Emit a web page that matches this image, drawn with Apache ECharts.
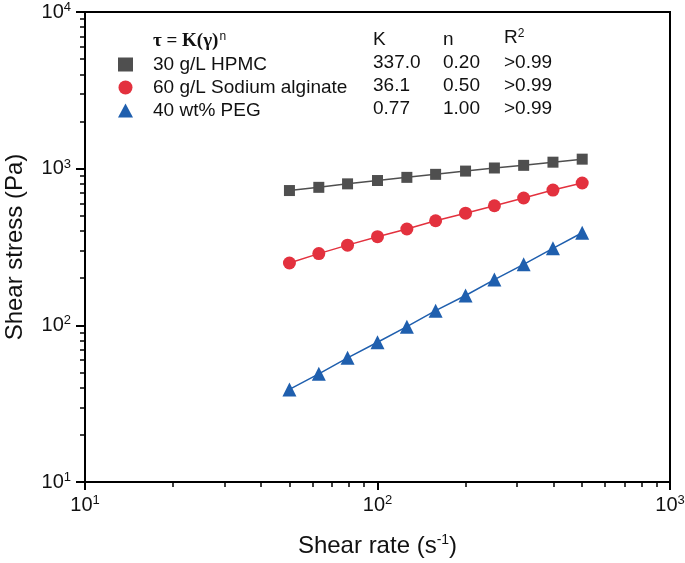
<!DOCTYPE html>
<html><head><meta charset="utf-8">
<script src="https://cdn.jsdelivr.net/npm/echarts@6/dist/echarts.min.js"></script>
<style>html,body{margin:0;padding:0;background:#fff}#c{width:685px;height:563px}</style>
</head><body><div id="c"></div>
<script>
const shearRate = [50, 63, 79, 100, 126, 158, 200, 251, 316, 398, 501];
const hpmc = [725, 760, 800, 840, 880, 920, 965, 1010, 1050, 1100, 1150];
const alginate = [250, 287, 325, 368, 412, 465, 520, 580, 650, 730, 810];
const peg = [39, 49, 62, 78, 98, 124, 155, 196, 245, 310, 390];
const seriesNames = ['30 g/L HPMC', '60 g/L Sodium alginate', '40 wt% PEG'];
const kVals = ['337.0', '36.1', '0.77'];
const nVals = ['0.20', '0.50', '1.00'];
const r2Vals = ['>0.99', '>0.99', '>0.99'];
const colors = ['#4f4f4f', '#e3313e', '#1f5fae'];
const symbols = ['rect', 'circle', 'triangle'];

const F = 'Liberation Sans, Arial, sans-serif';
const TXT = '#111';
const chart = echarts.init(document.getElementById('c'));
const expFmt = v => '{base|10}{sup|' + Math.round(Math.log10(v)) + '}';
const axisRich = {
  base: {fontSize: 20, fontFamily: F, color: TXT, lineHeight: 22},
  sup: {fontSize: 13, fontFamily: F, color: TXT, verticalAlign: 'top', lineHeight: 22, padding: [0,0,10,0]}
};

const mk = (name, data, i, size) => ({
  name, type: 'line', data: shearRate.map((x, j) => [x, data[j]]),
  symbol: symbols[i], symbolSize: size, showSymbol: true,
  itemStyle: {color: colors[i]}, lineStyle: {color: colors[i], width: 1.5},
  emphasis: {disabled: true}, z: 3
});

const rowY = [63, 86, 109];
const colX = [373, 443, 504];
const txt = (x, y, s) => ({type: 'text', x, y, style: {text: s, fontSize: 19, fontFamily: F, fill: TXT, verticalAlign: 'middle'}});
const g = [];
g.push({type: 'text', x: 153, y: 41, style: {text: '{a|τ = K(γ)}{n|n}', verticalAlign: 'middle', rich: {
  a: {fontSize: 19, fontFamily: 'Liberation Serif, DejaVu Serif, serif', fontWeight: 'bold', fill: TXT},
  n: {fontSize: 12, fontFamily: F, fill: TXT, verticalAlign: 'top', padding: [0,0,9,1]}}}});
g.push(txt(colX[0], 40, 'K'));
g.push(txt(colX[1], 40, 'n'));
g.push({type: 'text', x: colX[2], y: 38, style: {text: '{r|R}{s|2}', verticalAlign: 'middle', rich: {r: {fontSize: 19, fontFamily: F, fill: TXT}, s: {fontSize: 12, fontFamily: F, fill: TXT, verticalAlign: 'top', padding: [0,0,9,0]}}}});
for (let i = 0; i < 3; i++) {
  g.push(txt(colX[0], rowY[i], kVals[i]));
  g.push(txt(colX[1], rowY[i], nVals[i]));
  g.push(txt(colX[2], rowY[i], r2Vals[i]));
}

chart.setOption({
  animation: false,
  backgroundColor: '#fff',
  grid: {left: 85, right: 15, top: 12, bottom: 81, containLabel: false, outerBoundsMode: 'none', show: true, borderColor: '#000', borderWidth: 2, backgroundColor: 'transparent'},
  legend: {
    orient: 'vertical', left: 113, top: 50, itemWidth: 15, itemHeight: 14, itemGap: 4,
    data: seriesNames.map((n, i) => ({name: n, icon: symbols[i]})),
    textStyle: {fontSize: 19, fontFamily: F, color: TXT, padding: [0,0,0,15]},
    selectedMode: false
  },
  xAxis: {
    type: 'log', logBase: 10, min: 10, max: 1000,
    name: 'Shear rate (s{sup|-1})', nameLocation: 'middle', nameGap: 51,
    nameTextStyle: {fontSize: 24, fontFamily: F, color: TXT, rich: {sup: {fontSize: 14, fontFamily: F, color: TXT, verticalAlign: 'top', padding: [0,0,12,0]}}},
    axisLine: {lineStyle: {color: '#000', width: 2}},
    axisTick: {inside: false, length: 8, lineStyle: {color: '#000', width: 2}},
    minorTick: {show: true, splitNumber: 9, length: 5, lineStyle: {color: '#000', width: 1.5}},
    axisLabel: {formatter: expFmt, fontSize: 20, fontFamily: F, rich: axisRich, margin: 12, color: TXT},
    splitLine: {show: false}
  },
  yAxis: {
    type: 'log', logBase: 10, min: 10, max: 10000,
    name: 'Shear stress (Pa)', nameLocation: 'middle', nameGap: 58,
    nameTextStyle: {fontSize: 24, fontFamily: F, color: TXT},
    axisLine: {lineStyle: {color: '#000', width: 2}},
    axisTick: {inside: false, length: 9, lineStyle: {color: '#000', width: 2}},
    minorTick: {show: true, splitNumber: 9, length: 5, lineStyle: {color: '#000', width: 1.5}},
    axisLabel: {formatter: expFmt, fontSize: 20, fontFamily: F, rich: axisRich, margin: 14, color: TXT},
    splitLine: {show: false}
  },
  graphic: g,
  series: [mk(seriesNames[0], hpmc, 0, 11), mk(seriesNames[1], alginate, 1, 13), mk(seriesNames[2], peg, 2, 14)]
});
</script></body></html>
